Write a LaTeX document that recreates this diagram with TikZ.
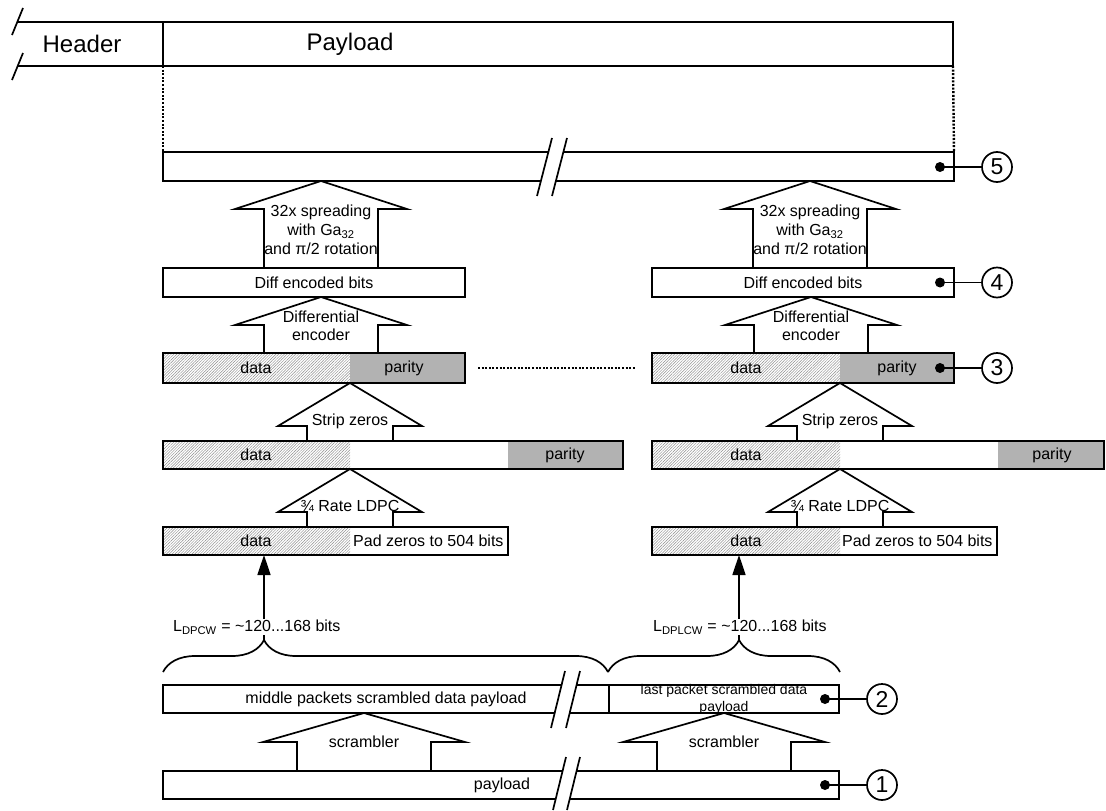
\documentclass[tikz,border=0pt]{standalone}
\usepackage{fontspec}
\setmainfont{Liberation Sans}
\usetikzlibrary{arrows.meta,patterns.meta,decorations.pathreplacing}
\newcommand\fbig{\fontsize{24}{28}\selectfont}
\newcommand\fsm{\fontsize{16}{19}\selectfont}
\newcommand\fxs{\fontsize{14}{17}\selectfont}
\newcommand\fnum{\fontsize{23}{26}\selectfont}
% block arrow: #1 cx, #2 tip y, #3 head base y, #4 half wing, #5 half shaft, #6 bottom y
\newcommand\blockarrow[6]{%
  \draw[barrow] (#1-#5,#6) -- (#1-#5,#3) -- (#1-#4,#3) -- (#1,#2) -- (#1+#4,#3) -- (#1+#5,#3) -- (#1+#5,#6);}
% break mark: slash1 (#1,#2)-(#3,#4), slash2 (#5,#6)-(#7,#8)
\newcommand\breakmark[8]{%
  \fill[white] (#1,#2) -- (#3,#4) -- (#7,#8) -- (#5,#6) -- cycle;
  \draw[ln] (#1,#2) -- (#3,#4);
  \draw[ln] (#5,#6) -- (#7,#8);}
\begin{document}
\begin{tikzpicture}[x=1pt,y=-1pt,
  ln/.style={line width=1.7pt},
  box/.style={draw, line width=1.7pt, inner sep=0pt, outer sep=0pt},
  barrow/.style={draw, line width=1.7pt, line join=miter},
  datafill/.style={pattern={Lines[angle=45,distance=2pt,line width=0.45pt]}, pattern color=black!45},
  parfill/.style={fill=black!30},
  lbl/.style={font=\fsm, inner sep=0pt},
  numc/.style={draw, circle, line width=1.7pt, minimum size=30pt, inner sep=0pt, font=\fnum},
  dotn/.style={fill, circle, minimum size=10pt, inner sep=0pt},
  conn/.style={line width=1.7pt},
  vtip/.style={line width=1.7pt, -{Triangle[width=13pt,length=20pt]}},
  brc/.style={line width=1.7pt, decorate, decoration={brace, amplitude=32pt}},
  dots/.style={line width=2.4pt, dash pattern=on 2pt off 1.6pt}
]
\useasboundingbox (0,0) rectangle (1106,811);

% ---------- header row ----------
\draw[ln] (17.5,22) -- (953,22) -- (953,66) -- (17.5,66);
\draw[ln] (163,22) -- (163,66);
\draw[ln] (12,35) -- (23,8);
\draw[ln] (12,80) -- (23,53);
\node[font=\fbig, inner sep=0pt] (hdr) at (82,44) {Header};
\node[font=\fbig, inner sep=0pt] (pay) at (350,44) {Payload};
\coordinate (hl) at (163,66);
\coordinate (hr) at (953,66);

% ---------- row 5 ----------
\node[box, minimum width=791pt, minimum height=29pt] (b5) at (558.5,166.5) {};
\draw[dots] (hl) -- (b5.north west);
\draw[dots] (hr) -- (b5.north east);
\breakmark{537}{196}{552}{138}{552}{196}{567}{138}
\node[dotn] (d5) at (940,167) {};
\node[numc] (c5) at (997,167) {5};
\draw[conn] (d5.center) -- (c5);

% ---------- row 4 ----------
\node[box, minimum width=302pt, minimum height=29pt, font=\fsm] (b4L) at (314,282.5) {Diff encoded bits};
\node[box, minimum width=302pt, minimum height=29pt, font=\fsm] (b4R) at (803,282.5) {Diff encoded bits};
\node[dotn] (d4) at (940,282.5) {};
\node[numc] (c4) at (997,282.5) {4};
\draw[conn] (d4.center) -- (c4);
\blockarrow{321}{181}{209}{86}{57}{268}
\blockarrow{810}{181}{209}{86}{57}{268}
\node[font=\fsm, align=center, inner sep=0pt] (t5L) at (321,230) {32x spreading\\with Ga\textsubscript{32}\\and π/2 rotation};
\node[font=\fsm, align=center, inner sep=0pt] (t5R) at (810,230) {32x spreading\\with Ga\textsubscript{32}\\and π/2 rotation};

% ---------- row 3 ----------
\fill[datafill] (163,353) rectangle (350,383);
\fill[parfill] (350,353) rectangle (465,383);
\fill[datafill] (652,353) rectangle (840,383);
\fill[parfill] (840,353) rectangle (954,383);
\node[box, minimum width=302pt, minimum height=30pt] (b3L) at (314,368) {};
\node[box, minimum width=302pt, minimum height=30pt] (b3R) at (803,368) {};
\node[lbl] (b3Ld) at (256,368) {data};
\node[lbl] (b3Lp) at (404,368) {parity};
\node[lbl] (b3Rd) at (746,368) {data};
\node[lbl] (b3Rp) at (897,368) {parity};
\draw[dots] (b3L.east) ++(13,0) coordinate (ds) -- ++(157,0) coordinate (de);
\node[dotn] (d3) at (940,368) {};
\node[numc] (c3) at (997,368) {3};
\draw[conn] (d3.center) -- (c3);
\blockarrow{321}{297}{325}{86}{57}{353}
\blockarrow{811}{297}{325}{86}{57}{353}
\node[font=\fsm, align=center, inner sep=0pt] (t4L) at (321,326) {Differential\\[-1.5pt]encoder};
\node[font=\fsm, align=center, inner sep=0pt] (t4R) at (811,326) {Differential\\[-1.5pt]encoder};

% ---------- codeword row ----------
\fill[datafill] (163,441) rectangle (350,469);
\fill[parfill] (508,441) rectangle (623,469);
\fill[datafill] (652,441) rectangle (840,469);
\fill[parfill] (998,441) rectangle (1104,469);
\node[box, minimum width=460pt, minimum height=28pt] (b2L) at (393,455) {};
\node[box, minimum width=452pt, minimum height=28pt] (b2R) at (878,455) {};
\node[lbl] (b2Ld) at (256,455) {data};
\node[lbl] (b2Lp) at (565,455) {parity};
\node[lbl] (b2Rd) at (746,455) {data};
\node[lbl] (b2Rp) at (1052,455) {parity};
\blockarrow{350}{383}{426}{72}{43}{441}
\blockarrow{840}{383}{426}{72}{43}{441}
\node[lbl] (t3L) at (350,421) {Strip zeros};
\node[lbl] (t3R) at (840,421) {Strip zeros};

% ---------- padded row ----------
\fill[datafill] (163,527) rectangle (350,555);
\fill[datafill] (652,527) rectangle (840,555);
\node[box, minimum width=345pt, minimum height=28pt] (b1L) at (335.5,541) {};
\node[box, minimum width=345pt, minimum height=28pt] (b1R) at (824.5,541) {};
\node[lbl] (b1Ld) at (256,541) {data};
\node[lbl, anchor=west] (b1Lz) at (353,541) {Pad zeros to 504 bits};
\node[lbl] (b1Rd) at (746,541) {data};
\node[lbl, anchor=west] (b1Rz) at (842,541) {Pad zeros to 504 bits};
\blockarrow{350}{469}{512}{72}{43}{527}
\blockarrow{840}{469}{512}{72}{43}{527}
\node[lbl] (t2L) at (350,506) {¾ Rate LDPC};
\node[lbl] (t2R) at (840,506) {¾ Rate LDPC};

% ---------- braces and length arrows ----------
\draw[brc, decoration={aspect=0.227}] (163,672) -- (608,672);
\draw[brc, decoration={aspect=0.565}] (608,672) -- (840,672);
\coordinate (bt1) at (264,640);
\coordinate (bt2) at (739,640);
\draw[vtip] (bt1) -- (bt1 |- b1L.south);
\draw[vtip] (bt2) -- (bt2 |- b1R.south);
\node[lbl, anchor=west, fill=white, inner sep=1pt] (L1) at (172,627) {L\textsubscript{DPCW} = \textasciitilde120...168 bits};
\node[lbl, anchor=west, fill=white, inner sep=1pt] (L2) at (652,627) {L\textsubscript{DPLCW} = \textasciitilde120...168 bits};

% ---------- scrambled payload row ----------
\node[box, minimum width=446pt, minimum height=28pt, font=\fsm] (mid) at (386,699) {middle packets scrambled data payload};
\node[box, minimum width=230pt, minimum height=28pt] (last) at (724,699) {};
\node[font=\fxs, align=center, inner sep=0pt] (lastt) at (724,699.5) {last packet scrambled data\\payload};
\breakmark{551}{728}{565}{671}{566}{728}{580}{671}
\node[dotn] (d2) at (825,699) {};
\node[numc] (c2) at (882,699) {2};
\draw[conn] (d2.center) -- (c2);

% ---------- payload row ----------
\node[box, minimum width=676pt, minimum height=28pt] (plo) at (501,785) {};
\node[lbl] (plot) at (502,785) {payload};
\breakmark{553}{810}{566}{757}{567}{810}{580}{757}
\node[dotn] (d1) at (825,785) {};
\node[numc] (c1) at (882,785) {1};
\draw[conn] (d1.center) -- (c1);
\blockarrow{364}{713}{742}{101}{67}{771}
\blockarrow{724}{713}{742}{101}{67}{771}
\node[lbl] (tsL) at (364,742) {scrambler};
\node[lbl] (tsR) at (724,742) {scrambler};
\end{tikzpicture}
\end{document}
